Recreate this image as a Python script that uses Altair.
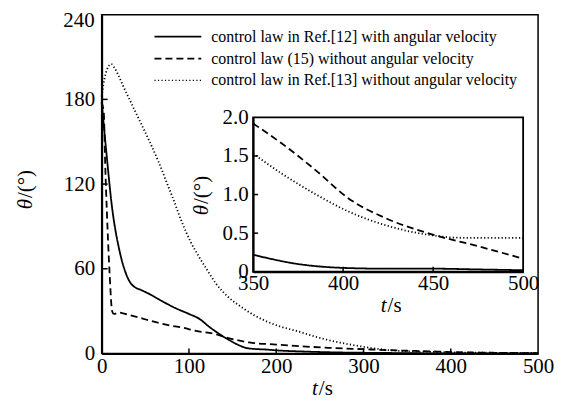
import altair as alt
import pandas as pd

# ---------------- data ----------------
SERIES = [
    "control law in Ref.[12] with angular velocity",
    "control law (15) without angular velocity",
    "control law in Ref.[13] without angular velocity",
]

t_solid = [0, 5, 12, 20, 27, 33, 38, 45, 55, 65, 85, 100, 112, 123, 132, 142, 155, 165, 175, 188,
           200, 230, 264, 300, 350, 375, 400, 424, 450, 475, 500]
v_solid = [178, 145, 103, 74, 58, 50, 47, 45, 42, 38.5, 32, 28, 24.5, 19, 15, 11, 6.5, 4, 3.2, 2.8,
           2.2, 1.4, 0.8, 0.5, 0.22, 0.1, 0.05, 0.04, 0.04, 0.03, 0.02]

t_dash = [0, 2.5, 4, 6, 9, 12, 14, 20, 30, 47, 55, 78, 92, 108, 131, 142, 169, 200, 226, 260,
          300, 350, 366, 385, 403, 424, 447, 475, 500]
v_dash = [178, 170, 135, 100, 58, 30, 28, 29, 27.5, 24.7, 23.3, 19.8, 18.4, 16, 13.6, 11.5, 7.8, 6.3, 5.2, 4,
          3, 1.92, 1.66, 1.31, 0.95, 0.69, 0.50, 0.33, 0.17]

t_dot = [0, 3, 6, 11, 15, 20, 25, 30, 35, 45, 55, 65, 74, 81, 92, 102, 112, 122, 131, 145,
         161, 175, 188, 205, 223, 250, 283, 310, 330, 350, 366, 385, 403, 424, 447, 466, 485, 500]
v_dot = [182, 194, 201, 205, 202, 196, 189, 182.5, 176, 163, 150, 136, 122, 111, 93, 79, 68, 58, 49.5, 40,
         32.5, 27, 23, 19, 16, 11, 6.5, 3.8, 2.3, 1.53, 1.27, 1.0, 0.78, 0.6, 0.48, 0.44, 0.44, 0.44]

main_x_ticks = [0, 100, 200, 300, 400, 500]
main_y_ticks = [0, 60, 120, 180, 240]
inset_x_ticks = [350, 400, 450, 500]
inset_y_ticks = [0, 0.5, 1.0, 1.5, 2.0]

rows = []
for name, ts, vs in zip(SERIES, [t_solid, t_dash, t_dot], [v_solid, v_dash, v_dot]):
    for t, v in zip(ts, vs):
        rows.append({"series": name, "t": t, "v": v})
df = pd.DataFrame(rows)
df_in = df[df["t"] >= 350]

# ---------------- styling ----------------
W, H = 438, 340
FONT = "Liberation Serif, Times New Roman, DejaVu Serif, serif"
LFS = 21
DASHES = [[1, 0], [7, 4], [1.2, 2.3]]
WIDTHS = [1.8, 1.8, 1.3]
dummy = pd.DataFrame({"d": [0]})

dash_scale = alt.Scale(domain=SERIES, range=DASHES)
width_scale = alt.Scale(domain=SERIES, range=WIDTHS)

main_xs = alt.Scale(domain=[0, 500], nice=False, zero=False)
main_ys = alt.Scale(domain=[0, 240], nice=False)

common_axis = dict(title=None, ticks=False, tickSize=0, labelFlush=False, labelOverlap=False,
                   domainWidth=2, domainColor="black", grid=False, labelFont=FONT,
                   labelFontSize=LFS, labelColor="black")

main_x_axis = alt.Axis(values=main_x_ticks, labelPadding=2, **common_axis)
main_y_axis = alt.Axis(values=main_y_ticks[:-1], labelPadding=7, **common_axis)

main_lines = alt.Chart(df).mark_line(color="black", interpolate="monotone").encode(
    x=alt.X("t:Q", scale=main_xs, axis=main_x_axis),
    y=alt.Y("v:Q", scale=main_ys, axis=main_y_axis),
    strokeDash=alt.StrokeDash("series:N", scale=dash_scale, legend=None),
    strokeWidth=alt.StrokeWidth("series:N", scale=width_scale, legend=None),
    detail="series:N",
)

# top y label drawn separately (it sits a little below its tick in the reference)
top_label = alt.Chart(pd.DataFrame({"v": main_y_ticks[-1:]})).mark_text(
    align="right", baseline="middle", dy=6, font=FONT, fontSize=LFS, color="black").encode(
    y=alt.Y("v:Q", scale=main_ys, axis=main_y_axis),
    x=alt.value(-7), text=alt.Text("v:Q"))

main_xtick = alt.Chart(pd.DataFrame({"t": main_x_ticks[1:-1]})).mark_rule(
    color="black", strokeWidth=1.5).encode(
    x=alt.X("t:Q", scale=main_xs, axis=main_x_axis),
    y=alt.value(H), y2=alt.value(H - 5))

main_ytick = alt.Chart(pd.DataFrame({"v": main_y_ticks[1:-1]})).mark_rule(
    color="black", strokeWidth=1.5).encode(
    y=alt.Y("v:Q", scale=main_ys, axis=main_y_axis),
    x=alt.value(0), x2=alt.value(6))

legend_layers = []
for i, s in enumerate(SERIES):
    yy = 22 + 22 * i
    legend_layers.append(
        alt.Chart(dummy).mark_rule(color="black", strokeWidth=WIDTHS[i], strokeDash=DASHES[i]).encode(
            x=alt.value(53), x2=alt.value(100), y=alt.value(yy)))
    legend_layers.append(
        alt.Chart(dummy).mark_text(align="left", baseline="middle", font=FONT, fontSize=16,
                                   color="black", text=s).encode(x=alt.value(110), y=alt.value(yy)))


def two_part_title(px, py, first, second, angle=0):
    kw = dict(baseline="middle", font=FONT, fontSize=LFS, color="black")
    if angle:
        kw["angle"] = angle
    a = alt.Chart(dummy).mark_text(align="right", fontStyle="italic", text=first, **kw).encode(
        x=alt.value(px), y=alt.value(py))
    b = alt.Chart(dummy).mark_text(align="left", text=second, **kw).encode(
        x=alt.value(px + (1 if not angle else 0)), y=alt.value(py - (1 if angle else 0)))
    return [a, b]


titles = (two_part_title(217, 376, "t", "/s")
          + two_part_title(-76, 185, "θ", "/(°)", angle=270)
          + two_part_title(286, 292, "t", "/s")
          + two_part_title(101, 191, "θ", "/(°)", angle=270))

main_layer = alt.layer(main_lines, top_label, main_xtick, main_ytick, *legend_layers, *titles)

# ---------------- inset ----------------
IN_X0, IN_X1 = 152, 423
IN_Y0, IN_Y1 = 258, 103
in_xs = alt.Scale(domain=[350, 500], range=[IN_X0, IN_X1], nice=False, zero=False)
in_ys = alt.Scale(domain=[0, 2], range=[IN_Y0, IN_Y1], nice=False)

in_x_axis = alt.Axis(orient="bottom", offset=-(H - IN_Y0), values=inset_x_ticks,
                     labelPadding=1, zindex=1, **common_axis)
in_y_axis = alt.Axis(orient="left", offset=-IN_X0, values=inset_y_ticks, labelPadding=5, zindex=1,
                     labelExpr="datum.value == 0 ? '0' : format(datum.value, '.1f')", **common_axis)

in_box = alt.Chart(pd.DataFrame({"x1": [350], "x2": [500], "y1": [0], "y2": [2]})).mark_rect(
    fill="white", stroke="black", strokeWidth=1.8).encode(
    x=alt.X("x1:Q", scale=in_xs, axis=in_x_axis), x2="x2:Q",
    y=alt.Y("y1:Q", scale=in_ys, axis=in_y_axis), y2="y2:Q")

in_lines = alt.Chart(df_in).mark_line(color="black", interpolate="monotone").encode(
    x=alt.X("t:Q", scale=in_xs, axis=in_x_axis),
    y=alt.Y("v:Q", scale=in_ys, axis=in_y_axis),
    strokeDash=alt.StrokeDash("series:N", scale=dash_scale, legend=None),
    strokeWidth=alt.StrokeWidth("series:N", scale=width_scale, legend=None),
    detail="series:N",
)

in_xtick = alt.Chart(pd.DataFrame({"t": inset_x_ticks[1:-1]})).mark_rule(
    color="black", strokeWidth=1.5).encode(
    x=alt.X("t:Q", scale=in_xs, axis=in_x_axis),
    y=alt.value(IN_Y0), y2=alt.value(IN_Y0 - 5))

in_ytick = alt.Chart(pd.DataFrame({"v": inset_y_ticks[1:-1]})).mark_rule(
    color="black", strokeWidth=1.5).encode(
    y=alt.Y("v:Q", scale=in_ys, axis=in_y_axis),
    x=alt.value(IN_X0), x2=alt.value(IN_X0 + 5))

inset_layer = alt.layer(in_box, in_lines, in_xtick, in_ytick)

chart = alt.layer(main_layer, inset_layer).resolve_scale(
    x="independent", y="independent"
).properties(
    width=W, height=H,
    autosize=alt.AutoSizeParams(type="none"),
    padding={"left": 94, "top": 6, "right": 20, "bottom": 48},
    background="white",
).configure_view(stroke="black", strokeWidth=1.5)

chart.save("out.html", embed_options={"renderer": "svg", "actions": False})
